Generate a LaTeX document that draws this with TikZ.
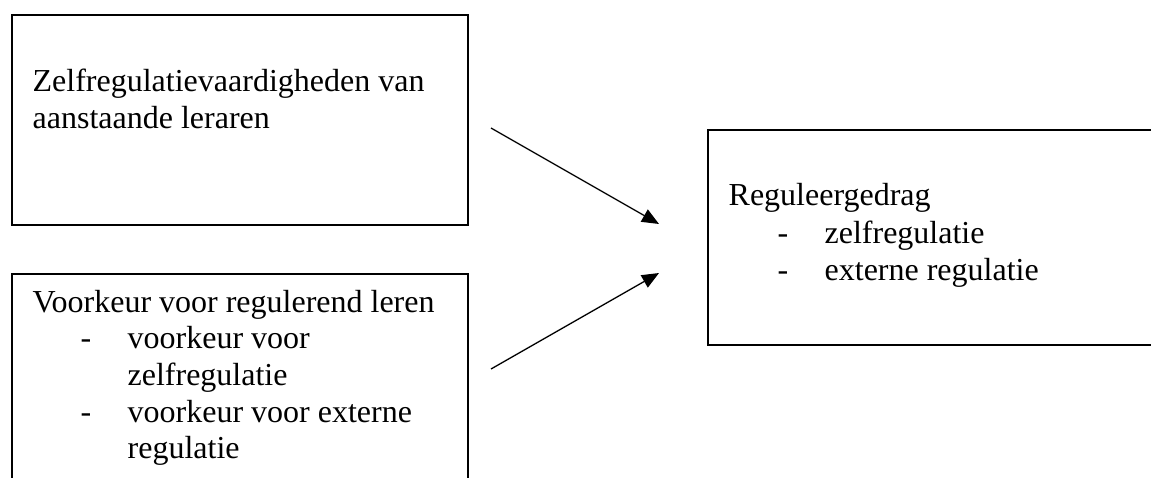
\documentclass[tikz,border=0pt]{standalone}
\usepackage{fontspec}
\setmainfont{Liberation Serif}
\usetikzlibrary{arrows.meta}

\begin{document}
\begin{tikzpicture}[x=1pt,y=-1pt,>={Triangle[length=17pt,width=14pt]},
  line width=1.3pt,
  box/.style={draw,line width=1.5pt,rectangle,anchor=north west,
  inner sep=0pt},
  txt/.style={anchor=base west,inner sep=0pt,
  font=\fontsize{32}{37}\selectfont}]

  \useasboundingbox (0,0) rectangle (1151,477);

  % the three boxes
  \node[box, minimum width=456pt, minimum height=210pt] (vaard) at (11,14) {};
  \node[box, minimum width=456pt, minimum height=240pt] (voork) at (11,273) {};
  \node[box, minimum width=453pt, minimum height=215pt] (gedrag) at (707,129) {};

  % box texts
  \node[txt] (v1) at (32,91) {Zelfregulatievaardigheden van};
  \node[txt] (v2) at (32,128) {aanstaande leraren};

  \node[txt] (k1) at (32,312) {Voorkeur voor regulerend leren};
  \node[txt] (kd1) at (80,348) {-};
  \node[txt] (k2) at (127,348) {voorkeur voor};
  \node[txt] (k3) at (127,385) {zelfregulatie};
  \node[txt] (kd2) at (80,422) {-};
  \node[txt] (k4) at (127,422) {voorkeur voor externe};
  \node[txt] (k5) at (127,458) {regulatie};

  \node[txt] (g1) at (728,205) {Reguleergedrag};
  \node[txt] (gd1) at (777,243) {-};
  \node[txt] (g2) at (824,243) {zelfregulatie};
  \node[txt] (gd2) at (777,280) {-};
  \node[txt] (g3) at (824,280) {externe regulatie};

  % arrow ends
  \coordinate (a1) at (491,128);
  \coordinate (b1) at (659,224);
  \coordinate (a2) at (491,369);
  \coordinate (b2) at (659,273);

  \draw[->] (a1) -- (b1);
  \draw[->] (a2) -- (b2);
\end{tikzpicture}
\end{document}
